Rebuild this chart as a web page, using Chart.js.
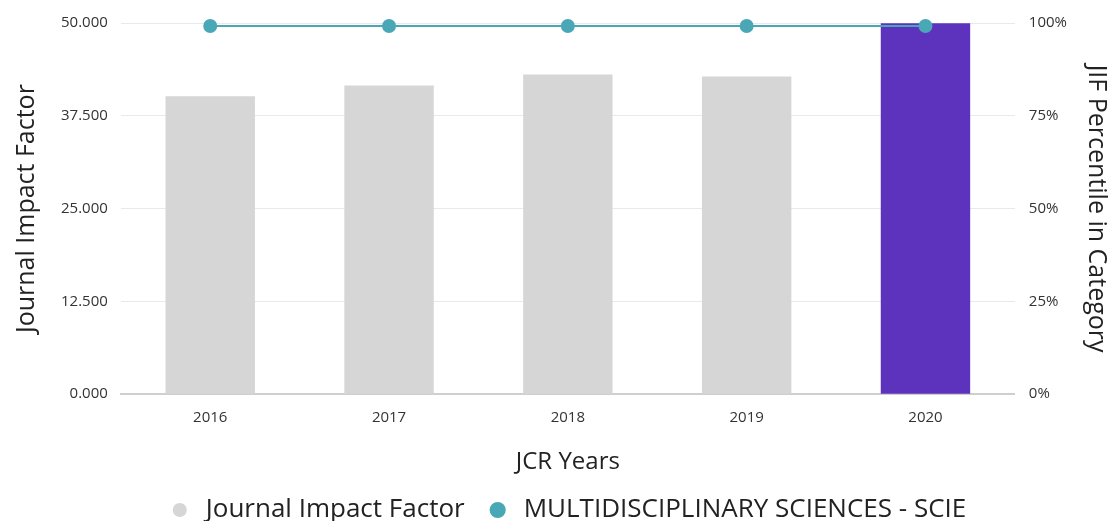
<!DOCTYPE html>
<html>
<head>
<meta charset="utf-8">
<script src="https://cdn.jsdelivr.net/npm/chart.js@4"></script>
<style>
  html, body { margin: 0; padding: 0; background: #fff; }
  #wrap { width: 1116px; height: 521px; }
</style>
</head>
<body>
<div id="wrap"><canvas id="jifChart"></canvas></div>
<script>
let years = ['2016', '2017', '2018', '2019', '2020'];
let impactFactor = [40.137, 41.577, 43.070, 42.778, 49.962];
let percentile = [99.2, 99.2, 99.2, 99.2, 99.2];
let barColors = ['#d6d6d6', '#d6d6d6', '#d6d6d6', '#d6d6d6', '#5d33bd'];
let leftTicks = [0, 12.5, 25, 37.5, 50];
let rightTicks = [0, 25, 50, 75, 100];

let fontFamily = '"Open Sans", "Noto Sans", sans-serif';
let ctx = document.getElementById('jifChart').getContext('2d');

let jifChart = new Chart(ctx, {
  type: 'bar',
  data: {
    labels: years,
    datasets: [{
      label: 'Journal Impact Factor',
      data: impactFactor,
      backgroundColor: barColors,
      yAxisID: 'y',
      order: 1,
      barPercentage: 1,
      categoryPercentage: 0.5
    }, {
      type: 'line',
      label: 'MULTIDISCIPLINARY SCIENCES - SCIE',
      data: percentile,
      borderColor: '#4aa8b6',
      backgroundColor: '#4aa8b6',
      borderWidth: 2,
      pointRadius: 6,
      pointHoverRadius: 6,
      yAxisID: 'y1',
      order: 0,
      clip: false
    }]
  },
  options: {
    responsive: true,
    maintainAspectRatio: false,
    animation: false,
    layout: { padding: { top: 8, left: 12, right: -5, bottom: -12 } },
    plugins: {
      legend: {
        position: 'bottom',
        labels: {
          usePointStyle: true,
          pointStyle: 'circle',
          boxWidth: 28,
          boxHeight: 10,
          padding: 20,
          color: '#222',
          font: { family: fontFamily, size: 26 },
          sort: function (a, b) { return a.datasetIndex - b.datasetIndex; },
          generateLabels: function (chart) {
            let items = Chart.defaults.plugins.legend.labels.generateLabels(chart);
            items.forEach(function (item) {
              if (item.datasetIndex === 0) {
                item.fillStyle = '#d6d6d6';
                item.strokeStyle = '#d6d6d6';
              }
            });
            return items;
          }
        }
      },
      tooltip: { enabled: false }
    },
    scales: {
      x: {
        grid: { display: false, drawTicks: false },
        border: { color: '#cfcfcf', width: 2 },
        ticks: { color: '#333', font: { family: fontFamily, size: 15 }, padding: 15 },
        title: {
          display: true,
          text: 'JCR Years',
          color: '#222',
          font: { family: fontFamily, size: 24 },
          padding: { top: 6, bottom: 0 }
        }
      },
      y: {
        position: 'left',
        min: 0,
        max: 50,
        afterBuildTicks: function (axis) {
          axis.ticks = leftTicks.map(function (v) { return { value: v }; });
        },
        grid: { color: '#e8e8ee', drawTicks: false },
        border: { display: false },
        ticks: {
          color: '#333',
          font: { family: fontFamily, size: 15 },
          padding: 13,
          callback: function (v) { return Number(v).toFixed(3); }
        },
        title: {
          display: true,
          text: 'Journal Impact Factor',
          color: '#222',
          font: { family: fontFamily, size: 25 },
          padding: { top: 0, bottom: 6 }
        }
      },
      y1: {
        position: 'right',
        min: 0,
        max: 100,
        afterBuildTicks: function (axis) {
          axis.ticks = rightTicks.map(function (v) { return { value: v }; });
        },
        grid: { display: false, drawTicks: false },
        border: { display: false },
        ticks: {
          color: '#333',
          font: { family: fontFamily, size: 15 },
          padding: 14,
          callback: function (v) { return v + '%'; }
        },
        title: {
          display: true,
          text: 'JIF Percentile in Category',
          color: '#222',
          font: { family: fontFamily, size: 25 },
          padding: { top: 10, bottom: 0 }
        }
      }
    }
  }
});
</script>
</body>
</html>
